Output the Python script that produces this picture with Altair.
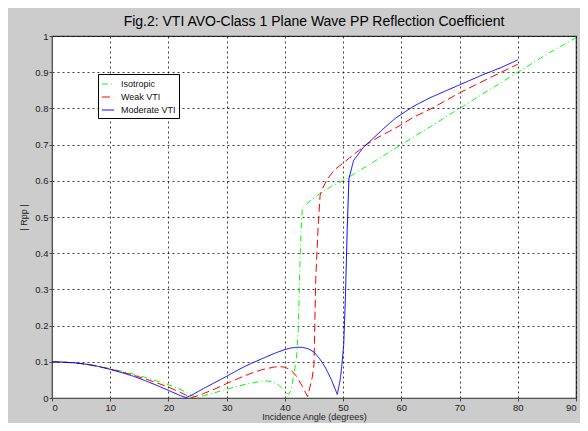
import altair as alt
import pandas as pd

# ---- data ----
iso_angle = [0, 2, 4, 6, 8, 10, 12, 14, 16, 18, 20, 22, 23, 24, 25, 26, 28, 30, 32, 34,
             36, 37, 38, 39, 40, 40.6, 41.0, 41.5, 42.0, 42.3, 42.6, 42.8, 43.0, 44, 46,
             48, 50, 52, 55, 60, 65, 70, 75, 80, 85, 90]
iso_rpp = [0.100, 0.099, 0.097, 0.094, 0.088, 0.081, 0.074, 0.066, 0.057, 0.047, 0.037,
           0.024, 0.016, 0.007, 0.001, 0.006, 0.015, 0.024, 0.033, 0.041, 0.046, 0.047,
           0.044, 0.035, 0.018, 0.010, 0.020, 0.060, 0.110, 0.190, 0.380, 0.470, 0.525,
           0.540, 0.565, 0.585, 0.600, 0.620, 0.650, 0.700, 0.750, 0.800, 0.850, 0.900,
           0.950, 0.995]

weak_angle = [0, 2, 4, 6, 8, 10, 12, 14, 16, 18, 20, 22, 23, 24, 25, 26, 28, 30, 32, 34,
              36, 38, 39, 40, 41, 42, 43, 43.5, 43.9, 44.3, 44.7, 45.0, 45.3, 45.7, 46.05,
              46.5, 47.3, 48.5, 50, 52, 54, 56, 58, 60, 62, 65, 70, 75, 80]
weak_rpp = [0.100, 0.099, 0.097, 0.093, 0.087, 0.080, 0.072, 0.063, 0.053, 0.042, 0.030,
            0.016, 0.008, 0.001, 0.006, 0.012, 0.025, 0.040, 0.054, 0.067, 0.078, 0.085,
            0.087, 0.085, 0.078, 0.060, 0.032, 0.016, 0.004, 0.030, 0.057, 0.093, 0.330,
            0.470, 0.560, 0.580, 0.605, 0.630, 0.649, 0.675, 0.700, 0.720, 0.737, 0.755,
            0.775, 0.798, 0.843, 0.883, 0.922]

mod_angle = [0, 2, 4, 6, 8, 10, 12, 14, 16, 18, 20, 22, 23, 24, 26, 28, 30, 32, 34, 36,
             38, 40, 41, 42, 43, 44, 45, 46, 47, 48, 48.5, 49, 49.5, 49.8, 50.1, 50.4,
             50.7, 51.0, 51.8, 53.5, 55, 57, 59, 62, 65, 70, 74, 77, 80]
mod_rpp = [0.100, 0.099, 0.097, 0.093, 0.087, 0.079, 0.070, 0.060, 0.048, 0.035, 0.021,
           0.007, 0.001, 0.008, 0.026, 0.043, 0.060, 0.078, 0.094, 0.108, 0.122, 0.134,
           0.138, 0.140, 0.140, 0.136, 0.127, 0.108, 0.083, 0.050, 0.030, 0.010, 0.050,
           0.093, 0.147, 0.280, 0.465, 0.606, 0.656, 0.693, 0.715, 0.745, 0.773, 0.805,
           0.830, 0.865, 0.893, 0.912, 0.934]

series_names = ["Isotropic", "Weak VTI", "Moderate VTI"]
series_colors = ["#00ff00", "#ff0000", "#0000ff"]
x_ticks = [0, 10, 20, 30, 40, 50, 60, 70, 80, 90]
y_ticks = [0, 0.1, 0.2, 0.3, 0.4, 0.5, 0.6, 0.7, 0.8, 0.9, 1]

rows = []
for name, ang, val in [("Isotropic", iso_angle, iso_rpp),
                       ("Weak VTI", weak_angle, weak_rpp),
                       ("Moderate VTI", mod_angle, mod_rpp)]:
    for a, v in zip(ang, val):
        rows.append({"angle": a, "rpp": v, "series": name})
df = pd.DataFrame(rows)

FONT = "Liberation Sans"

chart = alt.Chart(df).mark_line(strokeWidth=1, clip=True).encode(
    x=alt.X("angle:Q", scale=alt.Scale(domain=[0, 90], nice=False),
            axis=alt.Axis(values=x_ticks, title="Incidence Angle (degrees)",
                          format="d")),
    y=alt.Y("rpp:Q", scale=alt.Scale(domain=[0, 1], nice=False),
            axis=alt.Axis(values=y_ticks, title="| Rpp |", format="~g")),
    color=alt.Color("series:N",
                    scale=alt.Scale(domain=series_names, range=series_colors),
                    legend=alt.Legend(title=None)),
    strokeDash=alt.StrokeDash("series:N",
                              scale=alt.Scale(domain=series_names,
                                              range=[[6, 3, 1, 3], [8, 4], [1, 0]]),
                              legend=alt.Legend(title=None)),
).properties(
    width=524,
    height=362,
    padding={"left": 44, "top": 28, "right": 4, "bottom": 25},
    autosize=alt.AutoSizeParams(type="none"),
    background="#cccccc",
    title=alt.TitleParams("Fig.2: VTI AVO-Class 1 Plane Wave PP Reflection Coefficient",
                          fontSize=14, font=FONT, fontWeight="normal", color="#000",
                          anchor="middle", offset=2),
).configure_view(
    fill="white", stroke="#333333", strokeWidth=1.2
).configure_axis(
    grid=True, gridColor="#000000", gridDash=[2, 3], gridOpacity=0.75, gridWidth=1,
    domain=True, domainColor="#555555", domainWidth=1,
    ticks=True, tickSize=3, tickColor="#444444",
    labelFont=FONT, labelFontSize=9.5, labelColor="#222222", labelPadding=1,
    titleFont=FONT, titleFontSize=9, titleFontWeight="normal", titleColor="#222222",
).configure_axisX(
    titlePadding=1
).configure_axisY(
    titlePadding=6
).configure_legend(
    orient="none", legendX=46, legendY=38,
    fillColor="white", strokeColor="#000000", padding=3,
    labelFont=FONT, labelFontSize=9, labelColor="#111111",
    symbolType="stroke", symbolSize=150, symbolStrokeWidth=1,
    rowPadding=1, labelOffset=6,
)

chart.save("out.html", embed_options={"renderer": "svg", "actions": False})
